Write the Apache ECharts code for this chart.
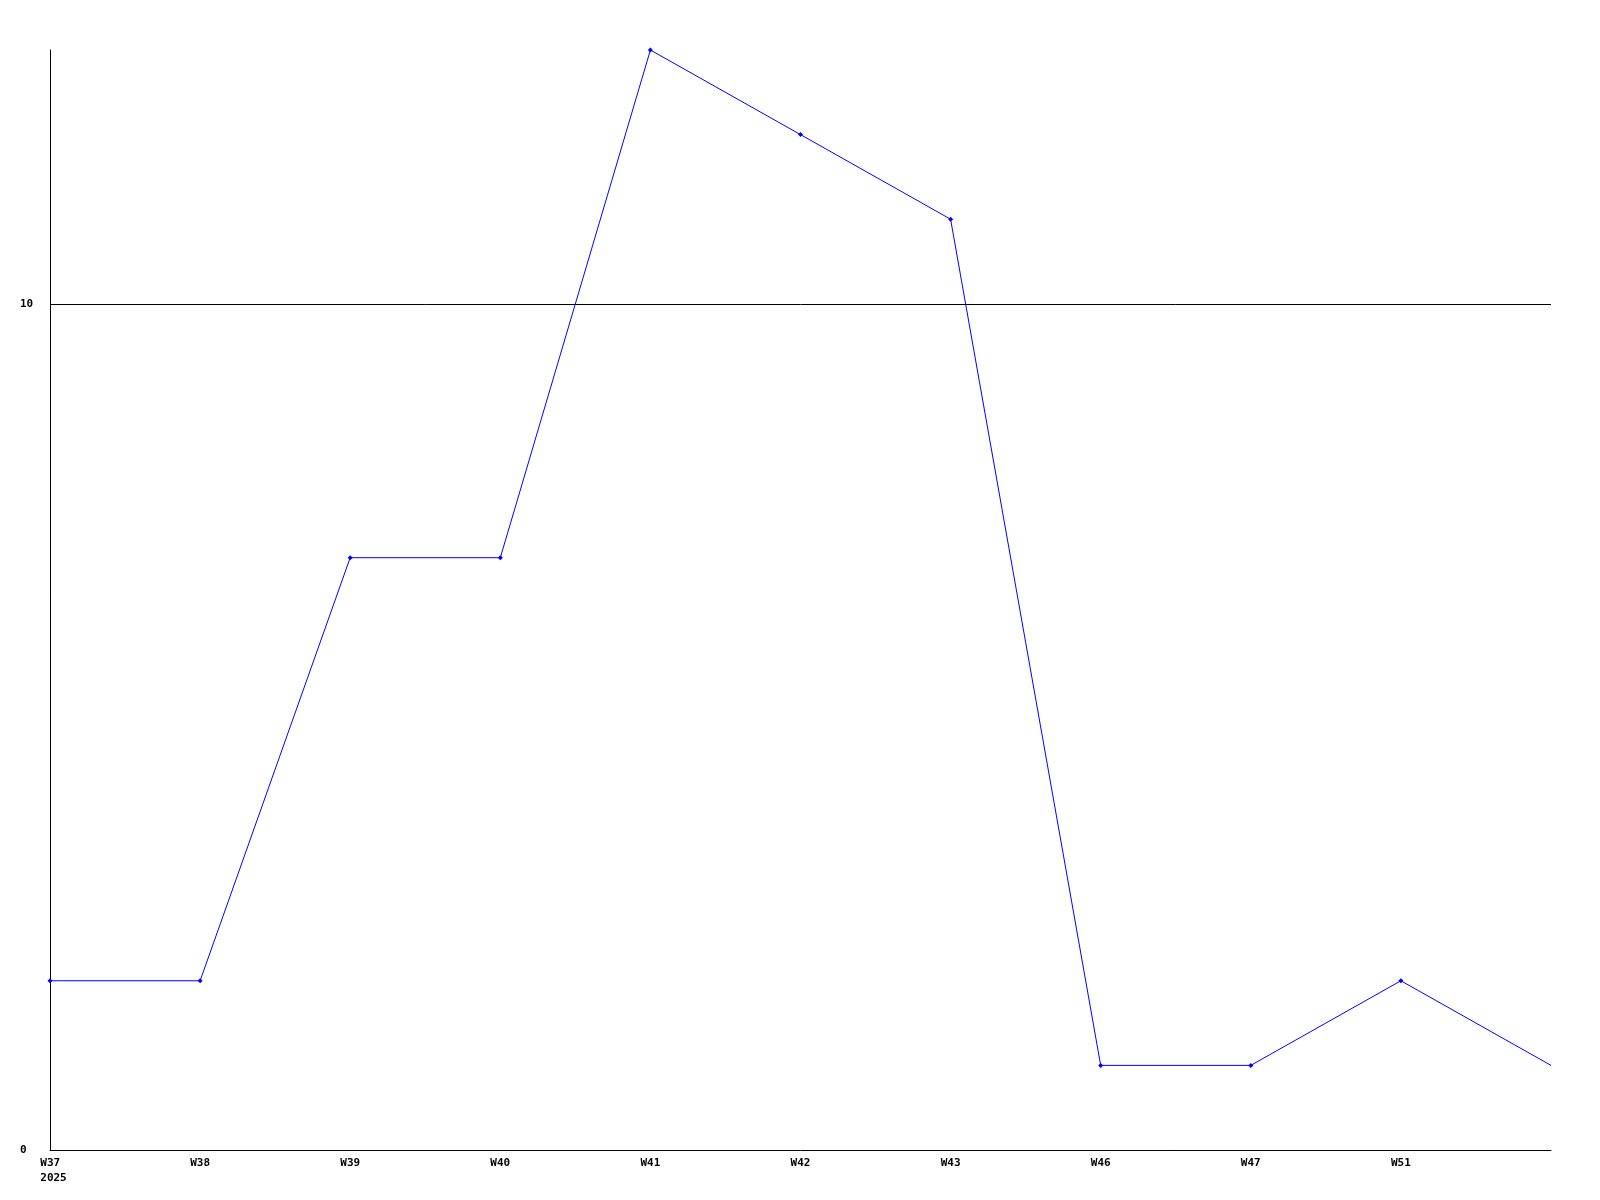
<!DOCTYPE html>
<html>
<head>
<meta charset="utf-8">
<script src="https://cdn.jsdelivr.net/npm/echarts@6/dist/echarts.min.js"></script>
<style>
html,body{margin:0;padding:0;background:#fff;}
#chart{width:1600px;height:1200px;}
</style>
</head>
<body>
<div id="chart"></div>
<script>
const categories = ['W37\n2025', 'W38', 'W39', 'W40', 'W41', 'W42', 'W43', 'W46', 'W47', 'W51', ''];
const values = [2, 2, 7, 7, 13, 12, 11, 1, 1, 2, 1];
const yTicks = [0, 10];

const lastIdx = values.length - 1;
const seriesData = values.map((v, i) => i === lastIdx ? { value: v, symbol: 'none' } : v);

const chart = echarts.init(document.getElementById('chart'), null, { renderer: 'canvas' });
chart.setOption({
  animation: false,
  backgroundColor: '#ffffff',
  grid: { left: 50, right: 49, top: 50, bottom: 50 },
  xAxis: {
    type: 'category',
    data: categories,
    boundaryGap: false,
    axisLine: { lineStyle: { color: '#000', width: 1 } },
    axisTick: { show: false },
    splitLine: { show: false },
    axisLabel: {
      interval: 0,
      margin: 6,
      color: '#000',
      fontFamily: 'DejaVu Sans Mono',
      fontWeight: 'bold',
      fontSize: 11,
      lineHeight: 15,
      align: 'center',
      formatter: function (v) {
        const parts = v.split('\n');
        const tag = parts.length > 1 ? 'b' : 'a';
        return parts.map(s => '{' + tag + '|' + s + '}').join('\n');
      },
      rich: {
        a: { align: 'left', fontFamily: 'DejaVu Sans Mono', fontWeight: 'bold', fontSize: 11, color: '#000', lineHeight: 15 },
        b: { align: 'left', fontFamily: 'DejaVu Sans Mono', fontWeight: 'bold', fontSize: 11, color: '#000', lineHeight: 15, padding: [0, 0, 0, 7] }
      }
    }
  },
  yAxis: {
    type: 'value',
    min: yTicks[0],
    max: 13,
    interval: yTicks[1] - yTicks[0],
    axisLine: { show: true, lineStyle: { color: '#000', width: 1 } },
    axisTick: { show: false },
    splitLine: { show: true, showMinLine: false, showMaxLine: false, lineStyle: { color: '#000', width: 1 } },
    axisLabel: {
      margin: 30,
      align: 'left',
      color: '#000',
      fontFamily: 'DejaVu Sans Mono',
      fontWeight: 'bold',
      fontSize: 11,
      formatter: function (v) { return yTicks.indexOf(v) >= 0 ? String(v) : ''; }
    }
  },
  series: [{
    type: 'line',
    data: seriesData,
    symbol: 'diamond',
    symbolSize: 5,
    showSymbol: true,
    lineStyle: { color: '#0000ff', width: 1 },
    itemStyle: { color: '#0000ff' },
    emphasis: { disabled: true }
  }]
});
</script>
</body>
</html>
